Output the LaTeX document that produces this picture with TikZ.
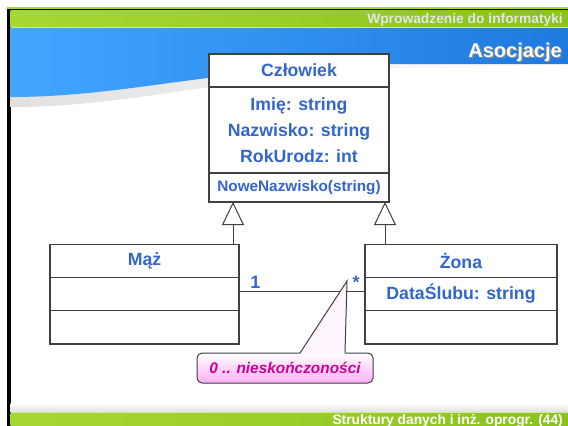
\documentclass[tikz,border=0pt]{standalone}
\usepackage{fontspec}
\setmainfont{Liberation Sans}
\usetikzlibrary{positioning,arrows.meta}

\definecolor{umlblue}{RGB}{51,102,204}
\definecolor{notemagenta}{RGB}{204,0,153}
\definecolor{notepink}{RGB}{255,175,245}
\definecolor{barleft}{RGB}{166,216,52}
\definecolor{barright}{RGB}{140,194,30}
\definecolor{bandleft}{RGB}{66,166,255}
\definecolor{bandright}{RGB}{30,122,222}

\begin{document}
\begin{tikzpicture}[x=1pt, y=-1pt,
    compart/.style={draw=black!75, line width=1.1pt, fill=white, outer sep=0pt, inner sep=2pt,
        text=umlblue, align=center, font=\fontsize{17.7}{26}\selectfont\bfseries},
    inherit/.style={-{Triangle[open, length=23pt, width=22pt]}, draw=black!75, line width=1pt},
    assoc/.style={draw=black!75, line width=1pt},
    mult/.style={text=umlblue, inner sep=2pt, font=\fontsize{18}{20}\selectfont\bfseries},
    noteshape/.style={draw=black!75, line width=1pt, rounded corners=5pt, outer sep=0pt,
        top color=white, bottom color=notepink, minimum width=176pt, minimum height=30pt,
        text=notemagenta, font=\fontsize{15.4}{18}\selectfont\bfseries\itshape},
    pointer/.style={draw=black!75, line width=1pt},
    banner/.style={inner sep=0pt, font=\fontsize{13.8}{16}\selectfont\bfseries}
]
\useasboundingbox (0,0) rectangle (568,426);
\clip (0,0) rectangle (568,426);

% Slide frame
\fill[white] (0,0) rectangle (568,426);
\fill[barleft] (7.3,7.3) rectangle (568,8.7);
\fill[black] (7.3,8.7) rectangle (568,10.7);
\fill[black] (7.3,8.7) rectangle (10.7,426);
\shade[left color=barleft, right color=barright] (10.7,10.7) rectangle (568,27.5);
\fill[barleft!50!white] (10.7,26.8) rectangle (568,28);
\shade[left color=black!12, right color=white] (10.7,28) -- (568,28) -- (568,66) -- (400,68)
    .. controls (220,77) and (130,107) .. (10.7,107) -- cycle;
\shade[left color=bandleft, right color=bandright] (10.7,28) -- (568,28) -- (568,64) -- (400,64)
    .. controls (220,66) and (130,97) .. (10.7,97) -- cycle;
\shade[top color=white, bottom color=black!12] (10.7,403) rectangle (568,412);
\fill[barleft!50!white] (10.7,412) rectangle (568,413);
\shade[left color=barleft, right color=barright] (10.7,413) rectangle (568,426);

% Titles
\node[banner, anchor=base east, text=white!90!black] (course) at (563,23.5) {Wprowadzenie do informatyki};
\node[banner, anchor=base east, text=black!45, font=\fontsize{20}{24}\selectfont\bfseries] at (563.5,58.5) {Asocjacje};
\node[banner, anchor=base east, text=white, font=\fontsize{20}{24}\selectfont\bfseries] (topic) at (562,57) {Asocjacje};
\node[banner, anchor=base east, text=white] (footer) at (563,424.5) {Struktury danych i inż. oprogr. (44)};

% Classes
\node[compart, minimum width=180pt, minimum height=33pt] (czlName) at (299,70.5) {Człowiek};
\node[compart, minimum width=180pt, minimum height=86pt, below=0pt of czlName] (czlAttr)
    {Imię: string\\Nazwisko: string\\RokUrodz: int};
\node[compart, minimum width=180pt, minimum height=29pt, below=0pt of czlAttr,
    font=\fontsize{15.3}{18}\selectfont\bfseries] (czlOps) {NoweNazwisko(string)};

\node[compart, minimum width=189pt, minimum height=33.3pt] (mazName) at (144.5,260.7) {Mąż};
\node[compart, minimum width=189pt, minimum height=33.3pt, below=0pt of mazName] (mazAttr) {};
\node[compart, minimum width=189pt, minimum height=33.3pt, below=0pt of mazAttr] (mazOps) {};

\node[compart, minimum width=192pt, minimum height=33.3pt] (zonaName) at (461,260.7) {Żona};
\node[compart, minimum width=192pt, minimum height=33.3pt, below=0pt of zonaName] (zonaAttr) {DataŚlubu: string};
\node[compart, minimum width=192pt, minimum height=33.3pt, below=0pt of zonaAttr] (zonaOps) {};

% Generalisation
\coordinate (leftHook) at ([xshift=24pt]czlOps.south west);
\coordinate (rightHook) at ([xshift=-4pt]czlOps.south east);
\draw[inherit] (leftHook |- mazName.north) -- (leftHook);
\draw[inherit] (rightHook |- zonaName.north) -- (rightHook);

% Association
\coordinate (assocStart) at ([yshift=3pt]mazAttr.east);
\draw[assoc] (assocStart) -- node[mult, pos=0.13, above] {1} node[mult, pos=0.93, above] {*}
    (assocStart -| zonaAttr.west);

% Note
\node[noteshape] (note) at (285,368) {0 .. nieskończoności};
\coordinate (noteTip) at (347,281);
\fill[notepink!12] ([xshift=15pt,yshift=-1pt]note.north) -- (noteTip) -- ([xshift=60pt,yshift=-1pt]note.north) -- cycle;
\draw[pointer] ([xshift=15pt]note.north) -- (noteTip) -- ([xshift=60pt]note.north);

\end{tikzpicture}
\end{document}
